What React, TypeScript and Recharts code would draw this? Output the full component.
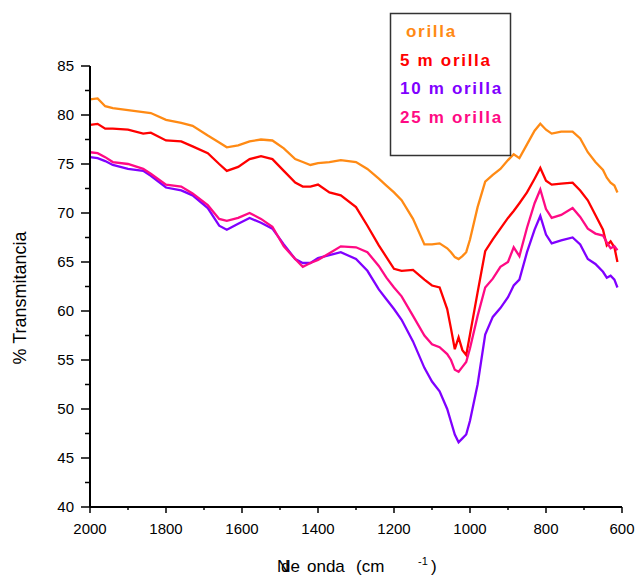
import { Line, LineChart, XAxis, YAxis } from "recharts";

// wavenumber (cm-1)
const wavenumbers = [
  2000, 1980, 1960, 1940, 1900, 1860, 1840, 1800, 1760, 1730,
  1690, 1660, 1640, 1610, 1580, 1550, 1520, 1490, 1460, 1440,
  1420, 1400, 1370, 1340, 1300, 1270, 1240, 1220, 1200, 1180,
  1150, 1120, 1100, 1080, 1060, 1050, 1040, 1030, 1020, 1010,
  1000, 980, 960, 940, 920, 900, 885, 870, 850, 830,
  815, 800, 785, 760, 730, 710, 690, 670, 650, 640,
  630, 620, 612,
];

const orilla = [
  81.6, 81.7, 80.9, 80.7, 80.5, 80.3, 80.2, 79.5, 79.2, 78.9,
  77.9, 77.2, 76.7, 76.9, 77.3, 77.5, 77.4, 76.6, 75.5, 75.2,
  74.9, 75.1, 75.2, 75.4, 75.2, 74.5, 73.5, 72.8, 72.1, 71.3,
  69.4, 66.8, 66.8, 66.9, 66.4, 66.0, 65.5, 65.3, 65.6, 66.0,
  67.3, 70.6, 73.2, 73.9, 74.5, 75.4, 76.0, 75.6, 77.0, 78.4,
  79.1, 78.5, 78.1, 78.3, 78.3, 77.6, 76.2, 75.2, 74.4, 73.6,
  73.1, 72.8, 72.1,
];

const orilla5 = [
  79.0, 79.1, 78.6, 78.6, 78.5, 78.1, 78.2, 77.4, 77.3, 76.8,
  76.1, 75.0, 74.3, 74.7, 75.5, 75.8, 75.5, 74.3, 73.1, 72.7,
  72.7, 72.9, 72.1, 71.8, 70.6, 68.7, 66.7, 65.5, 64.3, 64.1,
  64.2, 63.2, 62.6, 62.4, 60.2, 58.2, 56.1, 57.3, 56.0, 55.5,
  57.6, 61.9, 66.1, 67.3, 68.4, 69.5, 70.2, 71.0, 72.1, 73.5,
  74.6, 73.3, 72.9, 73.0, 73.1, 72.3, 71.3, 69.8, 68.3, 66.7,
  67.1, 66.5, 65.0,
];

const orilla10 = [
  75.7, 75.6, 75.3, 74.9, 74.5, 74.3, 73.8, 72.6, 72.3, 71.8,
  70.5, 68.7, 68.3, 68.9, 69.5, 69.0, 68.4, 66.8, 65.3, 64.9,
  64.9, 65.4, 65.7, 66.0, 65.3, 64.1, 62.2, 61.2, 60.2, 59.1,
  56.9, 54.2, 52.8, 51.8, 50.0, 48.7, 47.4, 46.6, 47.0, 47.4,
  48.8, 52.5, 57.6, 59.4, 60.3, 61.4, 62.6, 63.2, 66.0, 68.3,
  69.7, 67.8, 66.9, 67.2, 67.5, 66.8, 65.3, 64.8, 64.0, 63.4,
  63.6, 63.2, 62.4,
];

const orilla25 = [
  76.2, 76.1, 75.7, 75.2, 75.0, 74.5, 74.0, 72.9, 72.7, 72.0,
  70.8, 69.4, 69.2, 69.5, 70.0, 69.4, 68.6, 66.6, 65.3, 64.5,
  64.9, 65.2, 65.9, 66.6, 66.5, 66.0, 64.6, 63.4, 62.4, 61.5,
  59.5, 57.5, 56.6, 56.3, 55.6, 55.0, 54.0, 53.8, 54.3, 54.8,
  56.2, 59.5, 62.4, 63.3, 64.5, 65.0, 66.5, 65.6, 68.5, 71.0,
  72.4, 70.4, 69.5, 69.8, 70.5, 69.6, 68.4, 67.9, 67.7, 67.0,
  66.4, 66.6, 66.2,
];

const xTicks = [2000, 1900, 1800, 1700, 1600, 1500, 1400, 1300, 1200, 1100, 1000, 900, 800, 700, 600];
const yTicks = [40, 42.5, 45, 47.5, 50, 52.5, 55, 57.5, 60, 62.5, 65, 67.5, 70, 72.5, 75, 77.5, 80, 82.5, 85];

const series = [
  { key: "orilla", label: "orilla", color: "#FF8A14", values: orilla },
  { key: "orilla5", label: "5 m orilla", color: "#FF0000", values: orilla5 },
  { key: "orilla10", label: "10 m orilla", color: "#8000FF", values: orilla10 },
  { key: "orilla25", label: "25 m orilla", color: "#FF0A84", values: orilla25 },
];

const data = wavenumbers.map((wn, i) => {
  const row: Record<string, number> = { wn };
  series.forEach((s) => {
    row[s.key] = s.values[i];
  });
  return row;
});

const FONT = "'Liberation Sans', Arial, sans-serif";

function XTick({ x, y, payload }: any) {
  const major = payload.value % 200 === 0;
  return (
    <g>
      <line x1={x} x2={x} y1={y} y2={y + (major ? 6 : 3)} stroke="#000" strokeWidth={1.5} />
      {major && (
        <text x={x} y={y + 27} textAnchor="middle" fontSize={15} fontFamily={FONT} fill="#000">
          {payload.value}
        </text>
      )}
    </g>
  );
}

function YTick({ x, y, payload }: any) {
  const major = payload.value % 5 === 0;
  return (
    <g>
      <line x1={x - (major ? 9 : 5)} x2={x} y1={y} y2={y} stroke="#000" strokeWidth={1.5} />
      {major && (
        <text x={x - 16} y={y} dy="0.36em" textAnchor="end" fontSize={15} fontFamily={FONT} fill="#000">
          {payload.value}
        </text>
      )}
    </g>
  );
}

export default function App() {
  return (
    <div style={{ position: "absolute", left: 0, top: 0, width: 637, height: 575, background: "#fff" }}>
      <LineChart
        width={637}
        height={575}
        data={data}
        margin={{ top: 66, right: 15, bottom: 38, left: 50 }}
      >
        <XAxis
          dataKey="wn"
          type="number"
          domain={[600, 2000]}
          reversed
          ticks={xTicks}
          interval={0}
          tick={<XTick />}
          tickSize={0}
          tickMargin={0}
          tickLine={false}
          axisLine={{ stroke: "#000", strokeWidth: 2 }}
          height={30}
        />
        <YAxis
          type="number"
          domain={[40, 85]}
          ticks={yTicks}
          interval={0}
          tick={<YTick />}
          tickSize={0}
          tickMargin={0}
          tickLine={false}
          axisLine={{ stroke: "#000", strokeWidth: 2 }}
          width={40}
        />
        {series.map((s) => (
          <Line
            key={s.key}
            dataKey={s.key}
            type="linear"
            stroke={s.color}
            strokeWidth={2.3}
            dot={false}
            isAnimationActive={false}
          />
        ))}
      </LineChart>
      <svg
        width={637}
        height={575}
        style={{ position: "absolute", left: 0, top: 0, pointerEvents: "none" }}
        fontFamily={FONT}
      >
        <text x={26} y={298} transform="rotate(-90 26 298)" textAnchor="middle" fontSize={18} fill="#000">
          % Transmitancia
        </text>
        <text x={277} y={572} fontSize={17} fill="#000">N</text>
        <text x={281} y={572} fontSize={17} fill="#000">de</text>
        <text x={307} y={572} fontSize={17} fill="#000">onda</text>
        <text x={356} y={572} fontSize={17} fill="#000">(cm</text>
        <text x={418} y={565} fontSize={11} fill="#000">-1</text>
        <text x={431} y={572} fontSize={17} fill="#000">)</text>
        <rect x={390.5} y={13.5} width={120} height={142} fill="#fff" stroke="#333" strokeWidth={1.5} />
        {series.map((s, i) => (
          <text
            key={s.key}
            x={i === 0 ? 406 : 400}
            y={37 + i * 28.5}
            fontSize={17}
            fontWeight="bold"
            letterSpacing={1.7}
            fill={s.color}
          >
            {s.label}
          </text>
        ))}
      </svg>
    </div>
  );
}
